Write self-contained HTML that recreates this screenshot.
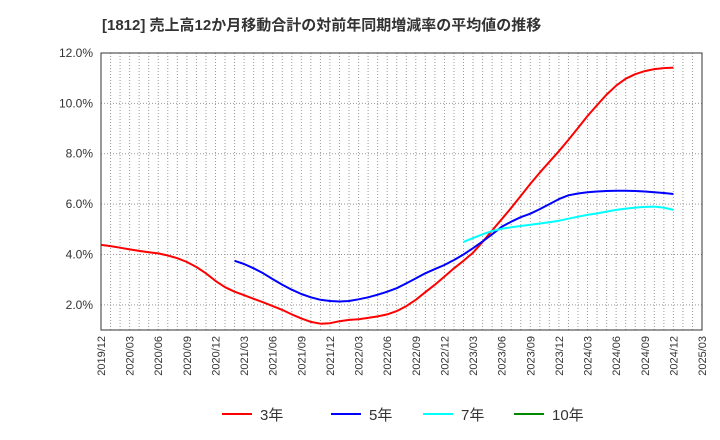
<!DOCTYPE html>
<html><head><meta charset="utf-8"><style>
body{margin:0;background:#fff;}
svg{display:block;font-family:"Liberation Sans","Noto Sans CJK JP",sans-serif;}
</style></head><body>
<svg id="c" width="720" height="440">
<text x="102" y="30" font-size="15" font-weight="bold" fill="#333">[1812]  売上高12か月移動合計の対前年同期増減率の平均値の推移</text>
<g id="grid"></g><g id="axes"></g><g id="series"></g>
<g>
<line x1="222" y1="414" x2="252" y2="414" stroke="#f00" stroke-width="2"/><text x="260" y="420" font-size="15" fill="#333">3年</text>
<line x1="331" y1="414" x2="361" y2="414" stroke="#00f" stroke-width="2"/><text x="369" y="420" font-size="15" fill="#333">5年</text>
<line x1="423" y1="414" x2="453" y2="414" stroke="#0ff" stroke-width="2"/><text x="461" y="420" font-size="15" fill="#333">7年</text>
<line x1="514" y1="414" x2="544" y2="414" stroke="#080" stroke-width="2"/><text x="552" y="420" font-size="15" fill="#333">10年</text>
</g>
</svg>
<script>
const xTicks=["2019/12","2020/03","2020/06","2020/09","2020/12","2021/03","2021/06","2021/09","2021/12","2022/03","2022/06","2022/09","2022/12","2023/03","2023/06","2023/09","2023/12","2024/03","2024/06","2024/09","2024/12","2025/03"];
const yTicks=[2,4,6,8,10,12];
const red=[4.38,4.33,4.27,4.20,4.14,4.09,4.04,3.96,3.85,3.70,3.50,3.25,2.95,2.70,2.52,2.38,2.24,2.10,1.95,1.80,1.62,1.46,1.32,1.25,1.27,1.35,1.40,1.43,1.48,1.54,1.62,1.75,1.95,2.20,2.50,2.80,3.12,3.45,3.75,4.07,4.50,4.95,5.40,5.85,6.32,6.80,7.25,7.68,8.10,8.55,9.02,9.50,9.93,10.35,10.70,10.98,11.16,11.28,11.36,11.40,11.42];
const redStart=0;
const blue=[3.75,3.62,3.45,3.25,3.02,2.8,2.6,2.43,2.3,2.2,2.15,2.13,2.15,2.22,2.3,2.4,2.52,2.66,2.85,3.05,3.25,3.42,3.58,3.78,4.0,4.25,4.52,4.8,5.1,5.3,5.48,5.62,5.8,6.0,6.2,6.35,6.42,6.47,6.5,6.52,6.53,6.53,6.52,6.5,6.47,6.44,6.4];
const blueStart=14;
const cyan=[4.5,4.65,4.8,4.93,5.02,5.08,5.13,5.18,5.23,5.28,5.34,5.42,5.5,5.57,5.63,5.7,5.77,5.82,5.86,5.89,5.9,5.86,5.77];
const cyanStart=38;
const L=101,R=702,T=53,B=330,yMin=1,yMax=12,nMonths=63;
const X=m=>L+(R-L)*m/nMonths;
const Y=v=>B-(B-T)*(v-yMin)/(yMax-yMin);
const NS="http://www.w3.org/2000/svg";
function mk(p,t,a){const e=document.createElementNS(NS,t);for(const k in a)e.setAttribute(k,a[k]);p.appendChild(e);return e;}
const g=document.getElementById('grid'),ax=document.getElementById('axes'),s=document.getElementById('series');
mk(g,'rect',{x:L,y:T,width:R-L,height:B-T,fill:'#fff'});
for(let m=1;m<nMonths;m++){const l=mk(g,'line',{x1:X(m),x2:X(m),y1:T,y2:B,stroke:'#999','stroke-dasharray':'1,2','stroke-width':1});

}
yTicks.forEach(v=>{const l=mk(g,'line',{x1:L,x2:R,y1:Y(v),y2:Y(v),stroke:'#999','stroke-dasharray':'1,2'});


const t=mk(ax,'text',{x:L-8,y:Y(v)+4,'text-anchor':'end','font-size':12,fill:'#333'});t.textContent=v.toFixed(1)+'%';

});
const fr=mk(ax,'rect',{x:L,y:T,width:R-L,height:B-T,fill:'none',stroke:'#333'});


xTicks.forEach((lab,i)=>{const x=X(i*3);const t=mk(ax,'text',{x:x+4,y:B+6,'text-anchor':'end','font-size':11,fill:'#333',transform:`rotate(-90 ${x+4} ${B+6})`});t.textContent=lab;

});
function line(arr,start,col,name){const p=arr.map((v,i)=>X(start+i).toFixed(1)+','+Y(v).toFixed(1)).join(' ');
const e=mk(s,'polyline',{points:p,fill:'none',stroke:col,'stroke-width':2,'stroke-linejoin':'round'});

}
line(red,redStart,'#f00','series-3y');
line(blue,blueStart,'#00f','series-5y');
line(cyan,cyanStart,'#0ff','series-7y');
</script>
</body></html>
